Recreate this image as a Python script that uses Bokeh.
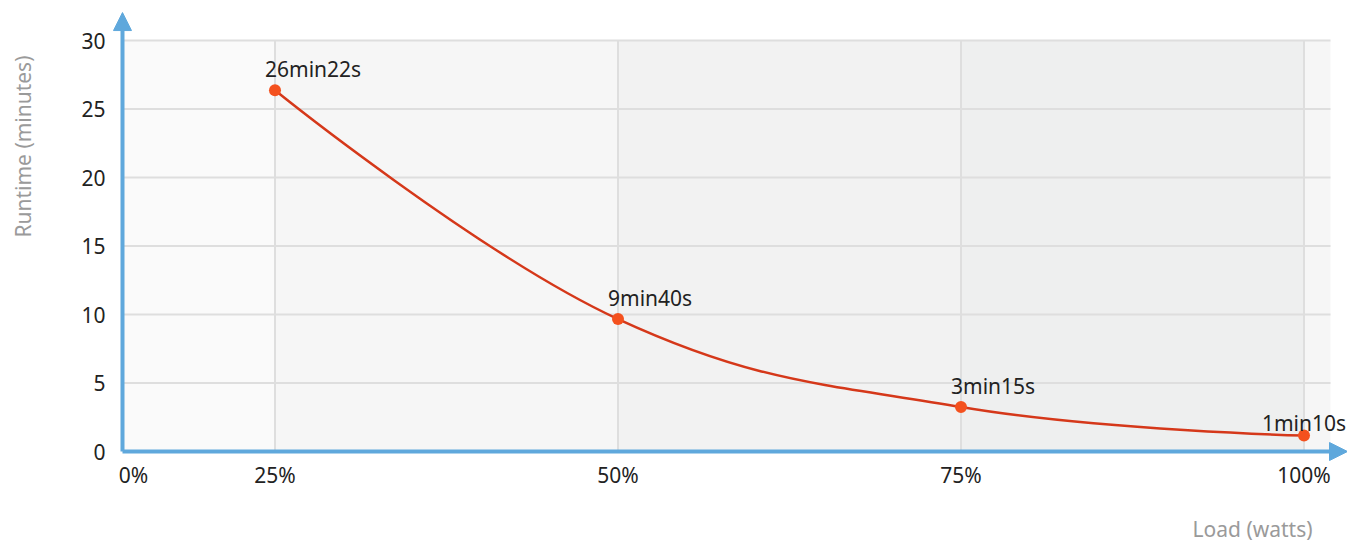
import math
from bokeh.plotting import figure
from bokeh.models import (FixedTicker, CustomJSTickFormatter, Label, LabelSet, Arrow,
                          NormalHead, ColumnDataSource, Range1d)
from bokeh.core.properties import value
from bokeh.embed import file_html
from bokeh.resources import INLINE

# ---------------- data ----------------
load_pct = [25, 50, 75, 100]
runtime_min = [26 + 22 / 60, 9 + 40 / 60, 3 + 15 / 60, 1 + 10 / 60]
runtime_text = ["26min22s", "9min40s", "3min15s", "1min10s"]
y_ticks = [0, 5, 10, 15, 20, 25, 30]
x_ticks = [25, 50, 75, 100]
origin_label = "0%"
x_title = "Load (watts)"
y_title = "Runtime (minutes)"

# ---------------- styles ----------------
FONT = "Noto Sans"
AXIS_C = "#5fa8dc"
LINE_C = "#d5381a"
DOT_C = "#f4511e"
TXT_C = "#222222"
TITLE_C = "#9a9a9a"
GRID_C = "#dedede"
band_colors = ["#fafafa", "#f6f6f6", "#f2f2f2", "#eeefef", "#f6f6f6"]

# view extents (data units); the frame covers the whole canvas
X_LO, X0, X1, X_HI = 4.993, 13.885, 101.93, 103.17
Y_LO, Y0, Y1, Y_HI = -6.788, 0, 30, 32.92
Y_ARROW = 32.04

p = figure(width=1347, height=544, output_backend="svg", toolbar_location=None,
           x_range=Range1d(X_LO, X_HI), y_range=Range1d(Y_LO, Y_HI),
           min_border_left=0, min_border_right=0, min_border_top=0,
           min_border_bottom=0)
p.outline_line_color = None
p.background_fill_color = "white"
p.border_fill_color = "white"
p.xgrid.visible = False
p.ygrid.visible = False

# plot bands
edges = [X0] + x_ticks + [X1]
p.quad(left=edges[:-1], right=edges[1:], bottom=Y0, top=Y1,
       fill_color=band_colors, line_color=None)

# grid lines limited to the plot area
p.segment(x0=X0, x1=X1, y0=y_ticks[1:], y1=y_ticks[1:], line_color=GRID_C, line_width=2)
p.segment(x0=x_ticks, x1=x_ticks, y0=Y0, y1=Y1, line_color=GRID_C, line_width=2)

# axes placed at the origin (labels only)
origin_tick = X0 + 0.8
p.xaxis.fixed_location = 0
p.yaxis.fixed_location = X0
p.xaxis.ticker = FixedTicker(ticks=[origin_tick] + x_ticks)
p.xaxis.formatter = CustomJSTickFormatter(
    args=dict(o=origin_label),
    code="return tick < 20 ? o : tick.toFixed(0) + '%';")
p.yaxis.ticker = FixedTicker(ticks=y_ticks)
for ax in (p.xaxis, p.yaxis):
    ax.axis_line_color = None
    ax.major_tick_line_color = None
    ax.minor_tick_line_color = None
    ax.major_label_text_font = FONT
    ax.major_label_text_font_size = "21px"
    ax.major_label_text_color = TXT_C
p.yaxis.major_label_standoff = 11
p.xaxis.major_label_standoff = 3

# axis lines with arrows
p.add_layout(Arrow(end=NormalHead(size=18, fill_color=AXIS_C, line_color=AXIS_C),
                   x_start=X0, y_start=0, x_end=X_HI, y_end=0,
                   line_color=AXIS_C, line_width=4))
p.add_layout(Arrow(end=NormalHead(size=18, fill_color=AXIS_C, line_color=AXIS_C),
                   x_start=X0, y_start=0, x_end=X0, y_end=Y_ARROW,
                   line_color=AXIS_C, line_width=4))


# smooth spline (Highcharts-style control points) through the data
def spline_controls(xs, ys, smoothing=1.5):
    n = len(xs)
    denom = smoothing + 1
    left = [(xs[i], ys[i]) for i in range(n)]
    right = [(xs[i], ys[i]) for i in range(n)]
    for i in range(1, n - 1):
        px, py = xs[i], ys[i]
        lx, ly = xs[i - 1], ys[i - 1]
        nx, ny = xs[i + 1], ys[i + 1]
        lcx = (smoothing * px + lx) / denom
        lcy = (smoothing * py + ly) / denom
        rcx = (smoothing * px + nx) / denom
        rcy = (smoothing * py + ny) / denom
        if rcx != lcx:
            corr = ((rcy - lcy) * (rcx - px)) / (rcx - lcx) + py - rcy
            lcy += corr
            rcy += corr
        if lcy > max(ly, py):
            lcy = max(ly, py); rcy = 2 * py - lcy
        elif lcy < min(ly, py):
            lcy = min(ly, py); rcy = 2 * py - lcy
        if rcy > max(py, ny):
            rcy = max(py, ny); lcy = 2 * py - rcy
        elif rcy < min(py, ny):
            rcy = min(py, ny); lcy = 2 * py - rcy
        left[i] = (lcx, lcy)
        right[i] = (rcx, rcy)
    return left, right


lc, rc = spline_controls(load_pct, runtime_min)
p.bezier(x0=load_pct[:-1], y0=runtime_min[:-1], x1=load_pct[1:], y1=runtime_min[1:],
         cx0=[c[0] for c in rc[:-1]], cy0=[c[1] for c in rc[:-1]],
         cx1=[c[0] for c in lc[1:]], cy1=[c[1] for c in lc[1:]],
         line_color=LINE_C, line_width=2.5)
p.scatter(load_pct, runtime_min, size=12, fill_color=DOT_C, line_color=None)

# data labels
src = ColumnDataSource(dict(x=load_pct[:-1], y=runtime_min[:-1], t=runtime_text[:-1]))
p.add_layout(LabelSet(x="x", y="y", text="t", source=src, x_offset=-10, y_offset=13,
                      text_align="left", text_baseline="alphabetic",
                      text_font=value(FONT), text_font_size=value("21px"),
                      text_color=TXT_C))
p.add_layout(Label(x=load_pct[-1], y=runtime_min[-1], text=runtime_text[-1],
                   x_offset=42, y_offset=13, text_align="right",
                   text_baseline="alphabetic", text_font=FONT,
                   text_font_size="21px", text_color=TXT_C))

# axis titles
p.add_layout(Label(x=X_LO, y=22.26, text=y_title, x_offset=22, angle=math.pi / 2,
                   text_align="center", text_baseline="middle", text_font=FONT,
                   text_font_size="21px", text_color=TITLE_C))
p.add_layout(Label(x=X1, y=0, text=x_title, x_offset=-18, y_offset=-77,
                   text_align="right", text_baseline="middle", text_font=FONT,
                   text_font_size="21px", text_color=TITLE_C))

open("out.html", "w").write(file_html(p, INLINE))
